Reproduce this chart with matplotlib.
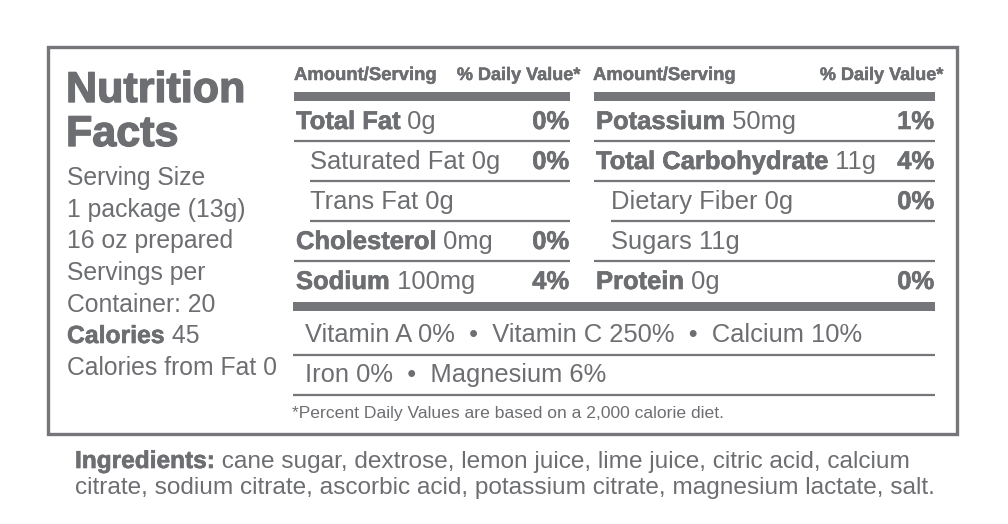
import matplotlib.pyplot as plt
import matplotlib.patheffects as pe

plt.rcParams["font.family"] = ["Liberation Sans", "DejaVu Sans"]

INK = "#6d6e71"
RULE = "#757679"

# left panel
title_lines = ["Nutrition", "Facts"]
serving_lines = ["Serving Size", "1 package (13g)", "16 oz prepared",
                 "Servings per", "Container: 20"]
calories = "45"
calories_from_fat = "Calories from Fat 0"

# nutrient table, left column
left_labels = ["Total Fat", "Saturated Fat", "Trans Fat", "Cholesterol", "Sodium"]
left_amounts = ["0g", "0g", "0g", "0mg", "100mg"]
left_dv = ["0%", "0%", "", "0%", "4%"]
left_sub = [False, True, True, False, False]

# nutrient table, right column
right_labels = ["Potassium", "Total Carbohydrate", "Dietary Fiber", "Sugars", "Protein"]
right_amounts = ["50mg", "11g", "0g", "11g", "0g"]
right_dv = ["1%", "4%", "0%", "", "0%"]
right_sub = [False, False, True, True, False]

vitamin_lines = ["Vitamin A 0%  \u2022  Vitamin C 250%  \u2022  Calcium 10%",
                 "Iron 0%  \u2022  Magnesium 6%"]
footnote = "*Percent Daily Values are based on a 2,000 calorie diet."
ingredients = ["cane sugar, dextrose, lemon juice, lime juice, citric acid, calcium",
               "citrate, sodium citrate, ascorbic acid, potassium citrate, magnesium lactate, salt."]

# which rules under each row start at the indented position
LEFT_RULE_INDENT = [False, True, True, False]
RIGHT_RULE_INDENT = [False, False, True, False]

HEAVY = [pe.withStroke(linewidth=0.45, foreground=INK)]


def rich(ax, x, y, parts, size):
    # draw bold/regular pieces one after another on the same baseline
    prev = None
    for text, weight in parts:
        fx = HEAVY if weight == "bold" else None
        if prev is None:
            prev = ax.text(x, y, text, fontsize=size, fontweight=weight,
                           color=INK, va="baseline", ha="left", path_effects=fx)
        else:
            prev = ax.annotate(text, xy=(1, 0), xycoords=prev, fontsize=size,
                               fontweight=weight, color=INK, va="bottom", ha="left",
                               path_effects=fx)
    return prev


def table_column(ax, x0, x_sub, x1, labels, amounts, dvs, subs, rule_indent):
    size = 18.4
    for i, (lab, amt, dv, sub) in enumerate(zip(labels, amounts, dvs, subs)):
        y = 129 + 40 * i
        if sub:
            rich(ax, x_sub, y, [(lab + " " + amt, "normal")], size)
        else:
            rich(ax, x0 + 2, y, [(lab, "bold"), (" " + amt, "normal")], size)
        if dv:
            ax.text(x1 - 1, y, dv, fontsize=size, fontweight="bold", color=INK,
                    va="baseline", ha="right", path_effects=HEAVY)
        if i < len(rule_indent):
            start = x_sub if rule_indent[i] else x0
            ax.plot([start, x1], [y + 12, y + 12], color=RULE, lw=1.6,
                    solid_capstyle="butt")


def main():
    fig = plt.figure(figsize=(10.08, 5.24), dpi=100)
    ax = fig.add_axes([0, 0, 1, 1])
    ax.set_xlim(0, 1008)
    ax.set_ylim(524, 0)
    ax.axis("off")

    # outer box
    ax.add_patch(plt.Rectangle((47.5, 46.5), 909, 387.5, fill=False,
                               edgecolor=RULE, lw=2.4))

    # title block
    for i, line in enumerate(title_lines):
        ax.text(66, 102 + 44 * i, line, fontsize=31, fontweight="bold", color=INK,
                va="baseline", path_effects=[pe.withStroke(linewidth=1.0, foreground=INK)])
    for i, line in enumerate(serving_lines):
        ax.text(67, 185 + 31.7 * i, line, fontsize=17.8, color=INK, va="baseline")
    rich(ax, 67, 343, [("Calories", "bold"), (" " + calories, "normal")], 17.8)
    ax.text(67, 375, calories_from_fat, fontsize=17.8, color=INK, va="baseline")

    # headers
    for xa, xb in [(294, 580), (593, 943)]:
        ax.text(xa, 80, "Amount/Serving", fontsize=13.3, fontweight="bold", color=INK,
                va="baseline", path_effects=[pe.withStroke(linewidth=0.35, foreground=INK)])
        ax.text(xb, 80, "% Daily Value*", fontsize=13.0, fontweight="bold", color=INK,
                va="baseline", ha="right",
                path_effects=[pe.withStroke(linewidth=0.35, foreground=INK)])
    ax.fill_between([294, 570], 92, 101, color=RULE, lw=0)
    ax.fill_between([594, 935], 92, 101, color=RULE, lw=0)

    table_column(ax, 294, 310, 570, left_labels, left_amounts, left_dv, left_sub,
                 LEFT_RULE_INDENT)
    table_column(ax, 594, 611, 935, right_labels, right_amounts, right_dv, right_sub,
                 RIGHT_RULE_INDENT)

    ax.fill_between([293, 935], 302, 311, color=RULE, lw=0)

    for i, line in enumerate(vitamin_lines):
        y = 342 + 40 * i
        ax.text(305, y, line, fontsize=18.4, color=INK, va="baseline")
        ax.plot([293, 935], [y + 13, y + 13], color=RULE, lw=1.6, solid_capstyle="butt")
    ax.text(292, 418, footnote, fontsize=12.6, color=INK, va="baseline")

    rich(ax, 75, 468, [("Ingredients:", "bold"), (" " + ingredients[0], "normal")], 17.6)
    ax.text(75, 494, ingredients[1], fontsize=17.6, color=INK, va="baseline")

    fig.savefig("out.png", dpi=100)
    plt.close(fig)


if __name__ == "__main__":
    main()
